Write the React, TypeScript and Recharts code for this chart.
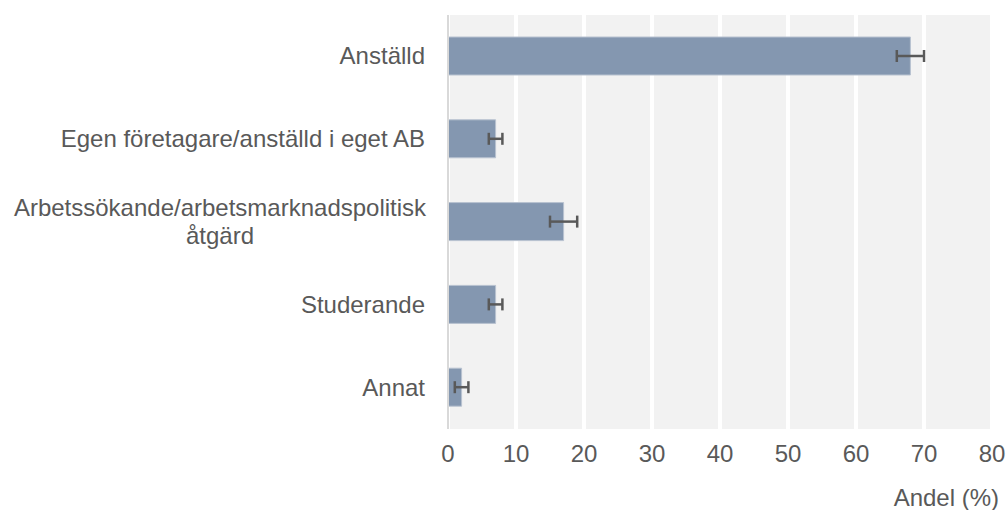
import React from "react";
import { BarChart, Bar, XAxis, YAxis, CartesianGrid, ErrorBar } from "recharts";

const categories = [
  "Anställd",
  "Egen företagare/anställd i eget AB",
  "Arbetssökande/arbetsmarknadspolitisk\nåtgärd",
  "Studerande",
  "Annat",
];
const values = [68, 7, 17, 7, 2];
const errors = [2, 1, 2, 1, 1];
const xTicks = [0, 10, 20, 30, 40, 50, 60, 70, 80];

const data = categories.map((c, i) => ({ name: c, value: values[i], err: errors[i] }));

const FONT = "'Liberation Sans', Arial, sans-serif";
const FS = 24;
const TEXT = "#595959";

const CategoryTick = (props: any) => {
  const { x, y, payload } = props;
  const lines = String(payload.value).split("\n");
  if (lines.length === 1) {
    return (
      <text x={x - 15} y={y} dy={8} textAnchor="end" fill={TEXT} fontSize={FS} fontFamily={FONT}>
        {lines[0]}
      </text>
    );
  }
  const cx = x - 220;
  const lh = 28;
  const start = y - ((lines.length - 1) * lh) / 2;
  return (
    <text textAnchor="middle" fill={TEXT} fontSize={FS} fontFamily={FONT}>
      {lines.map((l, i) => (
        <tspan key={i} x={cx} y={start + i * lh} dy={8}>
          {l}
        </tspan>
      ))}
    </text>
  );
};

export default function App() {
  return (
    <div style={{ position: "absolute", left: 0, top: 0, width: 1008, height: 510, background: "#fff" }}>
      <BarChart
        width={1008}
        height={510}
        data={data}
        layout="vertical"
        margin={{ top: 15, right: 16, left: 0, bottom: 0 }}
        barCategoryGap="27%"
      >
        <CartesianGrid horizontal={false} stroke="#ffffff" strokeWidth={4} fill="#f2f2f2" />
        <XAxis
          type="number"
          domain={[0, 80]}
          ticks={xTicks}
          axisLine={false}
          tickLine={false}
          tick={{ fill: TEXT, fontSize: FS, fontFamily: FONT }}
          tickMargin={10}
          height={81}
          label={{
            value: "Andel (%)",
            position: "insideBottomRight",
            offset: 4,
            fill: TEXT,
            fontSize: FS,
            fontFamily: FONT,
            dx: 11,
          }}
        />
        <YAxis
          type="category"
          dataKey="name"
          width={448}
          axisLine={{ stroke: "#d9d9d9", strokeWidth: 2 }}
          tickLine={false}
          tick={<CategoryTick />}
          interval={0}
        />
        <Bar dataKey="value" fill="#8497b0" stroke="#b8c2d0" strokeWidth={1} barSize={38} isAnimationActive={false}>
          <ErrorBar dataKey="err" direction="x" width={6} stroke="#595959" strokeWidth={2.5} />
        </Bar>
      </BarChart>
    </div>
  );
}
